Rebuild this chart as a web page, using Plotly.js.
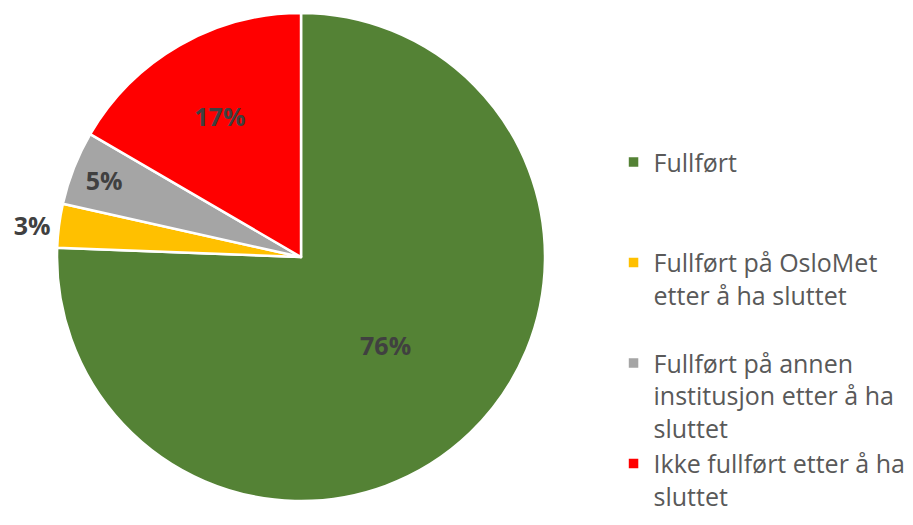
<!DOCTYPE html>
<html>
<head>
<meta charset="utf-8">
<script src="https://cdn.plot.ly/plotly-3.0.1.min.js"></script>
<style>html,body{margin:0;padding:0;background:#fff;}#chart{width:913px;height:525px;}</style>
</head>
<body>
<div id="chart"></div>
<script>
const labels = [
  "Fullført",
  "Fullført på OsloMet<br>etter å ha sluttet",
  "Fullført på annen<br>institusjon etter å ha<br>sluttet",
  "Ikke fullført etter å ha<br>sluttet"
];
const values = [75.6, 2.9, 4.9, 16.6];
const colors = ["#548235", "#FFC000", "#A5A5A5", "#FF0000"];
const textPositions = ["inside", "outside", "inside", "inside"];
const legendPad = [2, 1, 0, 0];

const legendLabels = labels.map((l, i) => l + "<br> ".repeat(legendPad[i]));

const trace = {
  type: "pie",
  labels: legendLabels,
  values: values,
  sort: false,
  direction: "clockwise",
  rotation: 0,
  marker: { colors: colors, line: { color: "#ffffff", width: 2.5 } },
  texttemplate: "%{percent:.0%}",
  textposition: textPositions,
  insidetextorientation: "horizontal",
  textfont: { family: "Open Sans, sans-serif", size: 25, color: "#404040", weight: "bold" },
  outsidetextfont: { family: "Open Sans, sans-serif", size: 25, color: "#404040", weight: "bold" },
  domain: { x: [0.0624, 0.597], y: [0.0457, 0.9752] },
  hoverinfo: "label+percent",
  automargin: false
};

const layout = {
  width: 913,
  height: 525,
  margin: { l: 0, r: 0, t: 0, b: 0 },
  paper_bgcolor: "#ffffff",
  showlegend: true,
  legend: {
    x: 0.672, xanchor: "left",
    y: 0.735, yanchor: "top",
    valign: "top",
    font: { family: "Open Sans, sans-serif", size: 25, color: "#595959" },
    itemwidth: 30,
    tracegroupgap: 0
  }
};

Plotly.newPlot("chart", [trace], layout, { displayModeBar: false, staticPlot: true });
</script>
</body>
</html>
